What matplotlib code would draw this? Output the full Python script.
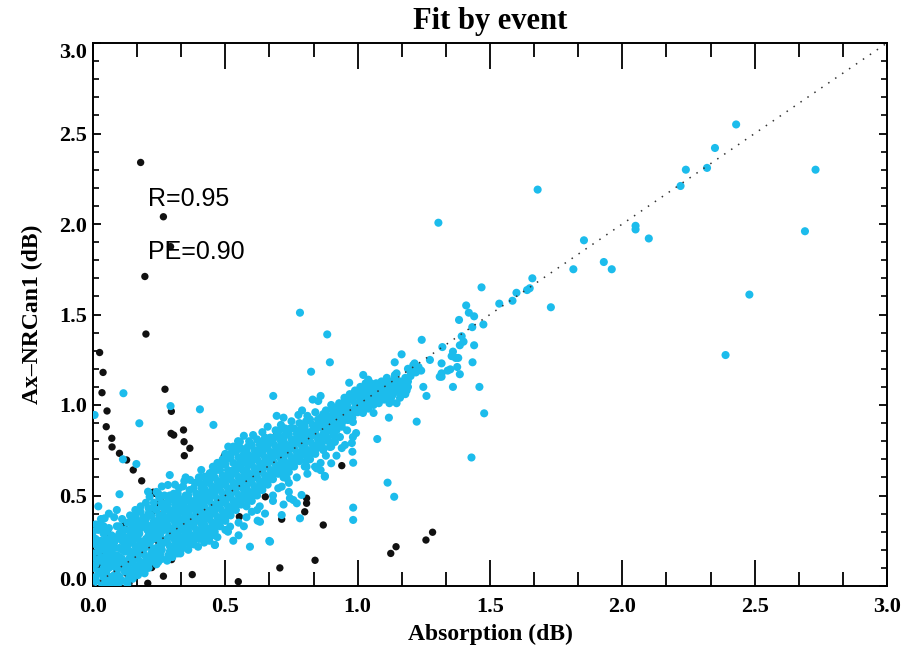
import matplotlib
matplotlib.use("Agg")
import matplotlib.pyplot as plt
from matplotlib.ticker import FixedLocator

# ---------------- data ----------------
title = "Fit by event"
x_label = "Absorption (dB)"
y_label = "Ax\u2013NRCan1 (dB)"
stat_r = "R=0.95"
stat_pe = "PE=0.90"
x_ticks = [0.0, 0.5, 1.0, 1.5, 2.0, 2.5, 3.0]
y_ticks = [0.0, 0.5, 1.0, 1.5, 2.0, 2.5, 3.0]
tick_labels = ["0.0", "0.5", "1.0", "1.5", "2.0", "2.5", "3.0"]

# black (rejected) events
black_pts = [
    (0.18, 2.34), (0.266, 2.04), (0.196, 1.71), (0.293, 1.875), (0.20, 1.392),
    (0.025, 1.29), (0.038, 1.18), (0.034, 1.068), (0.053, 0.967), (0.05, 0.88),
    (0.071, 0.816), (0.072, 0.768), (0.10, 0.733), (0.127, 0.696), (0.152, 0.641), (0.184, 0.581),
    (0.227, 0.518), (0.233, 0.512), (0.258, 0.466), (0.248, 0.452), (0.252, 0.392), (0.222, 0.405),
    (0.272, 1.087), (0.296, 0.965), (0.295, 0.843), (0.305, 0.834), (0.342, 0.862), (0.344, 0.797),
    (0.366, 0.761), (0.345, 0.72),
    (0.691, 0.829), (0.496, 0.718), (0.94, 0.665), (0.651, 0.493), (0.553, 0.383), (0.713, 0.369),
    (0.807, 0.485), (0.807, 0.457), (0.80, 0.41), (0.87, 0.337),
    (1.283, 0.297), (1.258, 0.254), (1.145, 0.217), (1.125, 0.18),
    (0.839, 0.142), (0.706, 0.10), (0.549, 0.024), (0.375, 0.063), (0.266, 0.054), (0.297, 0.146),
    (0.222, 0.102), (0.214, 0.144), (0.207, 0.015), (0.136, 0.015), (0.121, 0.343), (0.054, 0.296),
    (0.208, 0.309), (0.026, 0.19), (0.014, 0.162), (0.064, 0.208), (0.033, 0.125), (0.058, 0.282),
    (0.045, 0.217), (0.07, 0.18), (0.121, 0.116), (0.127, 0.07), (0.014, 0.107),
    (0.40, 0.36), (0.637, 0.65),
]

# cyan (accepted) events, split by absorption range
cyan_a = [
    (0.00, 0.01), (0.01, 0.05), (0.00, 0.10), (0.02, 0.14), (0.00, 0.18), (0.01, 0.23), (0.00, 0.27), (0.02, 0.31),
    (0.03, 0.02), (0.03, 0.07), (0.04, 0.10), (0.03, 0.16), (0.04, 0.20), (0.03, 0.25), (0.04, 0.29), (0.03, 0.37),
    (0.05, 0.00), (0.06, 0.04), (0.05, 0.08), (0.06, 0.13), (0.05, 0.17), (0.06, 0.22), (0.05, 0.26), (0.06, 0.32),
    (0.07, 0.02), (0.08, 0.06), (0.07, 0.11), (0.08, 0.15), (0.07, 0.19), (0.08, 0.24), (0.07, 0.28), (0.09, 0.33),
    (0.09, 0.01), (0.10, 0.05), (0.09, 0.09), (0.10, 0.12), (0.09, 0.17), (0.10, 0.21), (0.11, 0.25), (0.10, 0.29),
    (0.11, 0.03), (0.12, 0.08), (0.11, 0.15), (0.12, 0.19), (0.12, 0.27), (0.13, 0.35), (0.08, 0.38), (0.02, 0.21),
    (0.01, 0.34), (0.04, 0.33), (0.06, 0.40), (0.09, 0.42), (0.11, 0.37), (0.02, 0.44), (0.04, 0.05), (0.06, 0.18),
    (0.038, 0.328), (0.044, 0.374), (0.10, 0.507), (0.113, 0.70), (0.164, 0.674), (0.006, 0.945),
    (0.115, 1.065), (0.175, 0.899), (0.293, 0.994), (0.404, 0.976), (0.455, 0.89),
]
cyan_a2 = [
    (0.01, 0.03), (0.02, 0.08), (0.01, 0.12), (0.00, 0.16), (0.02, 0.19), (0.01, 0.26), (0.00, 0.30), (0.03, 0.34),
    (0.04, 0.03), (0.05, 0.06), (0.04, 0.13), (0.05, 0.15), (0.04, 0.23), (0.05, 0.24), (0.05, 0.30),
    (0.06, 0.01), (0.07, 0.05), (0.06, 0.10), (0.07, 0.16), (0.06, 0.20), (0.07, 0.25), (0.08, 0.27),
    (0.08, 0.03), (0.09, 0.07), (0.08, 0.12), (0.09, 0.14), (0.08, 0.21), (0.09, 0.26), (0.10, 0.33),
    (0.10, 0.02), (0.11, 0.10), (0.10, 0.16), (0.11, 0.20), (0.11, 0.28), (0.12, 0.31), (0.12, 0.13), (0.12, 0.23),
]
cyan_b = [
    (0.13, 0.01), (0.14, 0.06), (0.13, 0.11), (0.14, 0.16), (0.13, 0.22), (0.14, 0.28), (0.15, 0.33), (0.14, 0.39),
    (0.15, 0.04), (0.16, 0.09), (0.15, 0.13), (0.16, 0.19), (0.15, 0.24), (0.16, 0.30), (0.17, 0.36), (0.16, 0.42),
    (0.17, 0.06), (0.18, 0.11), (0.17, 0.15), (0.18, 0.21), (0.17, 0.26), (0.18, 0.32), (0.19, 0.38), (0.18, 0.44),
    (0.19, 0.08), (0.20, 0.13), (0.19, 0.18), (0.20, 0.23), (0.21, 0.28), (0.20, 0.34), (0.21, 0.40), (0.20, 0.46),
    (0.21, 0.10), (0.22, 0.16), (0.22, 0.21), (0.23, 0.26), (0.22, 0.31), (0.23, 0.36), (0.23, 0.43),
    (0.24, 0.12), (0.24, 0.18), (0.25, 0.23), (0.24, 0.28), (0.25, 0.33), (0.25, 0.39), (0.26, 0.46), (0.24, 0.52),
    (0.26, 0.15), (0.26, 0.20), (0.26, 0.26), (0.27, 0.31), (0.26, 0.36), (0.27, 0.42),
    (0.195, 0.07), (0.208, 0.521), (0.214, 0.493), (0.246, 0.512),
]
cyan_b2 = [
    (0.135, 0.04), (0.14, 0.09), (0.135, 0.14), (0.14, 0.19), (0.135, 0.25), (0.14, 0.31), (0.145, 0.36),
    (0.155, 0.07), (0.16, 0.11), (0.155, 0.17), (0.16, 0.22), (0.155, 0.27), (0.165, 0.33), (0.16, 0.39),
    (0.175, 0.09), (0.18, 0.13), (0.175, 0.18), (0.18, 0.24), (0.175, 0.29), (0.185, 0.35), (0.18, 0.41),
    (0.195, 0.11), (0.20, 0.16), (0.195, 0.21), (0.20, 0.26), (0.205, 0.31), (0.20, 0.37), (0.21, 0.43),
    (0.215, 0.13), (0.22, 0.18), (0.215, 0.24), (0.22, 0.29), (0.225, 0.34), (0.22, 0.39), (0.23, 0.46),
    (0.235, 0.15), (0.24, 0.21), (0.235, 0.26), (0.24, 0.31), (0.245, 0.36), (0.24, 0.42), (0.25, 0.49),
    (0.255, 0.18), (0.26, 0.23), (0.255, 0.29), (0.26, 0.33), (0.265, 0.39), (0.26, 0.44), (0.27, 0.50),
]
cyan_c = [
    (0.28, 0.14), (0.29, 0.19), (0.28, 0.24), (0.29, 0.29), (0.28, 0.34), (0.29, 0.39), (0.28, 0.45), (0.29, 0.50),
    (0.30, 0.16), (0.31, 0.22), (0.30, 0.27), (0.31, 0.32), (0.30, 0.37), (0.31, 0.42), (0.30, 0.48),
    (0.32, 0.18), (0.33, 0.24), (0.32, 0.29), (0.33, 0.34), (0.32, 0.39), (0.33, 0.45), (0.32, 0.51),
    (0.34, 0.21), (0.35, 0.26), (0.34, 0.31), (0.35, 0.36), (0.34, 0.41), (0.35, 0.47), (0.34, 0.55),
    (0.36, 0.20), (0.37, 0.25), (0.36, 0.30), (0.37, 0.35), (0.36, 0.40), (0.37, 0.44), (0.36, 0.50),
    (0.38, 0.23), (0.39, 0.28), (0.38, 0.33), (0.39, 0.38), (0.38, 0.43), (0.39, 0.48), (0.38, 0.54),
    (0.40, 0.26), (0.41, 0.31), (0.40, 0.36), (0.41, 0.41), (0.40, 0.46), (0.41, 0.51), (0.40, 0.57),
    (0.42, 0.24), (0.43, 0.29), (0.42, 0.34), (0.43, 0.39), (0.42, 0.44), (0.43, 0.49), (0.42, 0.54), (0.43, 0.60),
    (0.44, 0.27), (0.45, 0.32), (0.44, 0.37), (0.45, 0.42), (0.44, 0.47), (0.45, 0.52), (0.44, 0.57), (0.45, 0.63),
    (0.46, 0.30), (0.47, 0.35), (0.46, 0.40), (0.47, 0.45), (0.46, 0.50), (0.47, 0.55), (0.46, 0.60),
    (0.283, 0.328), (0.315, 0.475), (0.359, 0.485), (0.346, 0.42), (0.397, 0.438), (0.384, 0.383),
    (0.371, 0.365), (0.409, 0.641), (0.422, 0.604), (0.428, 0.576), (0.441, 0.623), (0.453, 0.659),
    (0.46, 0.227), (0.397, 0.217), (0.29, 0.613), (0.283, 0.558),
]
cyan_c2 = [
    (0.285, 0.17), (0.29, 0.22), (0.285, 0.27), (0.29, 0.32), (0.285, 0.37), (0.29, 0.42), (0.285, 0.47),
    (0.305, 0.19), (0.31, 0.25), (0.305, 0.30), (0.31, 0.35), (0.305, 0.40), (0.31, 0.45), (0.305, 0.51),
    (0.325, 0.21), (0.33, 0.27), (0.325, 0.32), (0.33, 0.37), (0.325, 0.42), (0.33, 0.48), (0.325, 0.54),
    (0.345, 0.24), (0.35, 0.29), (0.345, 0.34), (0.35, 0.39), (0.345, 0.44), (0.35, 0.50), (0.345, 0.58),
    (0.365, 0.23), (0.37, 0.28), (0.365, 0.33), (0.37, 0.38), (0.365, 0.42), (0.37, 0.47), (0.365, 0.53),
    (0.385, 0.26), (0.39, 0.31), (0.385, 0.36), (0.39, 0.41), (0.385, 0.46), (0.39, 0.51), (0.385, 0.57),
    (0.405, 0.29), (0.41, 0.34), (0.405, 0.39), (0.41, 0.44), (0.405, 0.49), (0.41, 0.54), (0.405, 0.60),
    (0.425, 0.27), (0.43, 0.32), (0.425, 0.37), (0.43, 0.42), (0.425, 0.47), (0.43, 0.52), (0.425, 0.57),
    (0.445, 0.30), (0.45, 0.35), (0.445, 0.40), (0.45, 0.45), (0.445, 0.50), (0.45, 0.55), (0.445, 0.60),
    (0.465, 0.33), (0.47, 0.38), (0.465, 0.43), (0.47, 0.48), (0.465, 0.53), (0.47, 0.58), (0.465, 0.64),
]
cyan_d = [
    (0.48, 0.33), (0.49, 0.38), (0.48, 0.43), (0.49, 0.48), (0.48, 0.53), (0.49, 0.58), (0.48, 0.64), (0.49, 0.70),
    (0.50, 0.36), (0.51, 0.41), (0.50, 0.46), (0.51, 0.51), (0.50, 0.56), (0.51, 0.61), (0.50, 0.67),
    (0.52, 0.39), (0.53, 0.44), (0.52, 0.49), (0.53, 0.54), (0.52, 0.59), (0.53, 0.64), (0.52, 0.71), (0.53, 0.77),
    (0.54, 0.42), (0.55, 0.47), (0.54, 0.52), (0.55, 0.57), (0.54, 0.62), (0.55, 0.67), (0.54, 0.74),
    (0.56, 0.45), (0.57, 0.50), (0.56, 0.55), (0.57, 0.60), (0.56, 0.65), (0.57, 0.70), (0.56, 0.76),
    (0.58, 0.44), (0.59, 0.49), (0.58, 0.54), (0.59, 0.59), (0.58, 0.64), (0.59, 0.69), (0.58, 0.74), (0.59, 0.80),
    (0.60, 0.47), (0.61, 0.52), (0.60, 0.57), (0.61, 0.62), (0.60, 0.67), (0.61, 0.72), (0.60, 0.78),
    (0.62, 0.50), (0.63, 0.55), (0.62, 0.60), (0.63, 0.65), (0.62, 0.70), (0.63, 0.75), (0.62, 0.81),
    (0.64, 0.53), (0.65, 0.58), (0.64, 0.63), (0.65, 0.68), (0.64, 0.73), (0.65, 0.79), (0.64, 0.85),
    (0.51, 0.30), (0.55, 0.35), (0.58, 0.38), (0.47, 0.27), (0.53, 0.25), (0.60, 0.41), (0.63, 0.44),
    (0.511, 0.77), (0.555, 0.797), (0.593, 0.779), (0.637, 0.797), (0.631, 0.355), (0.593, 0.217),
    (0.461, 0.227), (0.622, 0.361),
]
cyan_d2 = [
    (0.485, 0.36), (0.49, 0.41), (0.485, 0.46), (0.49, 0.51), (0.485, 0.56), (0.49, 0.61), (0.485, 0.67),
    (0.505, 0.39), (0.51, 0.44), (0.505, 0.49), (0.51, 0.54), (0.505, 0.59), (0.51, 0.64), (0.505, 0.70),
    (0.525, 0.42), (0.53, 0.47), (0.525, 0.52), (0.53, 0.57), (0.525, 0.62), (0.53, 0.68), (0.525, 0.74),
    (0.545, 0.45), (0.55, 0.50), (0.545, 0.55), (0.55, 0.60), (0.545, 0.65), (0.55, 0.71), (0.545, 0.77),
    (0.565, 0.48), (0.57, 0.53), (0.565, 0.58), (0.57, 0.63), (0.565, 0.68), (0.57, 0.73),
    (0.585, 0.47), (0.59, 0.52), (0.585, 0.57), (0.59, 0.62), (0.585, 0.67), (0.59, 0.72), (0.585, 0.77),
    (0.605, 0.50), (0.61, 0.55), (0.605, 0.60), (0.61, 0.65), (0.605, 0.70), (0.61, 0.75),
    (0.625, 0.53), (0.63, 0.58), (0.625, 0.63), (0.63, 0.68), (0.625, 0.73), (0.63, 0.78),
    (0.645, 0.56), (0.65, 0.61), (0.645, 0.66), (0.65, 0.71), (0.645, 0.76), (0.65, 0.82),
]
cyan_e = [
    (0.66, 0.56), (0.67, 0.61), (0.66, 0.66), (0.67, 0.71), (0.66, 0.76), (0.67, 0.82),
    (0.68, 0.59), (0.69, 0.64), (0.68, 0.69), (0.69, 0.74), (0.68, 0.79), (0.69, 0.86),
    (0.70, 0.62), (0.71, 0.67), (0.70, 0.72), (0.71, 0.77), (0.70, 0.83), (0.71, 0.89),
    (0.72, 0.60), (0.73, 0.65), (0.72, 0.70), (0.73, 0.75), (0.72, 0.80), (0.73, 0.86),
    (0.74, 0.63), (0.75, 0.68), (0.74, 0.73), (0.75, 0.78), (0.74, 0.84), (0.75, 0.91),
    (0.76, 0.66), (0.77, 0.71), (0.76, 0.76), (0.77, 0.81), (0.76, 0.87),
    (0.78, 0.69), (0.79, 0.74), (0.78, 0.79), (0.79, 0.84), (0.78, 0.90),
    (0.80, 0.66), (0.81, 0.72), (0.80, 0.77), (0.81, 0.82), (0.80, 0.88), (0.81, 0.94),
    (0.82, 0.70), (0.83, 0.75), (0.82, 0.80), (0.83, 0.86), (0.82, 0.92),
    (0.84, 0.73), (0.85, 0.78), (0.84, 0.84), (0.85, 0.89), (0.84, 0.96),
    (0.86, 0.68), (0.87, 0.76), (0.86, 0.82), (0.87, 0.87), (0.86, 0.93),
    (0.88, 0.72), (0.89, 0.80), (0.88, 0.85), (0.89, 0.91), (0.88, 0.97),
    (0.90, 0.77), (0.91, 0.83), (0.90, 0.88), (0.91, 0.94), (0.90, 1.00),
    (0.70, 0.54), (0.74, 0.57), (0.77, 0.60), (0.68, 0.50),
    (0.725, 0.871), (0.669, 0.816), (0.681, 1.05), (0.694, 0.94), (0.851, 1.022), (0.776, 0.945),
    (0.807, 0.659), (0.839, 0.659), (0.876, 0.604), (0.845, 0.65), (0.732, 0.595), (0.713, 0.549),
    (0.744, 0.485), (0.788, 0.503), (0.77, 0.457), (0.782, 0.374), (0.713, 0.392), (0.666, 0.249),
    (0.669, 0.245), (0.824, 1.184), (0.782, 1.51), (0.865, 0.89), (0.876, 0.608), (0.90, 0.678),
    (0.87, 0.751), (0.895, 0.768),
]
cyan_e2 = [
    (0.665, 0.59), (0.67, 0.64), (0.665, 0.69), (0.67, 0.74), (0.665, 0.79),
    (0.685, 0.62), (0.69, 0.67), (0.685, 0.72), (0.69, 0.77), (0.685, 0.82),
    (0.705, 0.65), (0.71, 0.70), (0.705, 0.75), (0.71, 0.80), (0.705, 0.86),
    (0.725, 0.63), (0.73, 0.68), (0.725, 0.73), (0.73, 0.78), (0.725, 0.83),
    (0.745, 0.66), (0.75, 0.71), (0.745, 0.76), (0.75, 0.81), (0.745, 0.87),
    (0.765, 0.69), (0.77, 0.74), (0.765, 0.79), (0.77, 0.84),
    (0.785, 0.72), (0.79, 0.77), (0.785, 0.82), (0.79, 0.87),
    (0.805, 0.69), (0.81, 0.75), (0.805, 0.80), (0.81, 0.85), (0.805, 0.91),
    (0.825, 0.73), (0.83, 0.78), (0.825, 0.83), (0.83, 0.89),
    (0.845, 0.76), (0.85, 0.81), (0.845, 0.87), (0.85, 0.92),
    (0.865, 0.79), (0.87, 0.84), (0.865, 0.90), (0.87, 0.95),
    (0.885, 0.82), (0.89, 0.88), (0.885, 0.94),
    (0.905, 0.85), (0.91, 0.91), (0.905, 0.97),
]
cyan_f = [
    (0.92, 0.86), (0.93, 0.91), (0.92, 0.96), (0.93, 1.01),
    (0.94, 0.88), (0.95, 0.93), (0.94, 0.98), (0.95, 1.04),
    (0.96, 0.86), (0.97, 0.95), (0.96, 1.00), (0.97, 1.06),
    (0.98, 0.93), (0.99, 0.98), (0.98, 1.03), (0.99, 1.08),
    (1.00, 0.96), (1.01, 1.00), (1.00, 1.05), (1.01, 1.10),
    (1.02, 0.99), (1.03, 1.03), (1.02, 1.07), (1.03, 1.12),
    (1.04, 0.98), (1.05, 1.02), (1.04, 1.06), (1.05, 1.10), (1.04, 1.14),
    (1.06, 1.00), (1.07, 1.04), (1.06, 1.08), (1.07, 1.12),
    (1.08, 1.01), (1.09, 1.05), (1.08, 1.09), (1.09, 1.13),
    (1.10, 1.03), (1.11, 1.07), (1.10, 1.11), (1.11, 1.15),
    (1.12, 1.01), (1.13, 1.05), (1.12, 1.09), (1.13, 1.13),
    (1.14, 1.07), (1.15, 1.11), (1.14, 1.16), (1.16, 1.04), (1.17, 1.09), (1.16, 1.13),
    (1.18, 1.15), (1.19, 1.10), (1.18, 1.06),
    (0.94, 0.762), (0.914, 0.796), (0.933, 0.823), (0.952, 0.779), (0.98, 0.742), (0.983, 0.681),
    (0.994, 0.845), (0.982, 0.823), (0.978, 0.79), (1.074, 0.812), (1.113, 0.571), (1.138, 0.493),
    (0.983, 0.433), (0.983, 0.365), (0.926, 0.983), (0.907, 0.945), (0.884, 0.917), (0.944, 0.934),
    (0.963, 0.917), (0.982, 0.906), (0.965, 1.03), (1.02, 0.956), (1.06, 0.956), (1.118, 0.93),
    (1.223, 0.908), (1.147, 1.01), (0.885, 1.39), (0.895, 1.236), (0.968, 1.123), (1.021, 1.166),
    (1.141, 1.166), (1.219, 1.188),
]
cyan_f2 = [
    (0.925, 0.89), (0.93, 0.94), (0.925, 0.99), (0.945, 0.91), (0.95, 0.96), (0.945, 1.01),
    (0.965, 0.98), (0.97, 1.03), (0.985, 0.96), (0.99, 1.01), (0.985, 1.06), (1.005, 0.98),
    (1.01, 1.03), (1.005, 1.08), (1.025, 1.01), (1.03, 1.05), (1.025, 1.10), (1.045, 1.00),
    (1.05, 1.04), (1.045, 1.08), (1.05, 1.12), (1.065, 1.02), (1.07, 1.06), (1.065, 1.10),
    (1.085, 1.03), (1.09, 1.07), (1.085, 1.11), (1.105, 1.05), (1.11, 1.09), (1.105, 1.13),
    (1.125, 1.03), (1.13, 1.07), (1.125, 1.11), (1.145, 1.09), (1.15, 1.13), (1.165, 1.07),
    (1.17, 1.12), (1.185, 1.08), (1.19, 1.13), (1.20, 1.16),
]
cyan_g = [
    (1.166, 1.28), (1.14, 1.236), (1.19, 1.20), (1.21, 1.22), (1.22, 1.18), (1.20, 1.18), (1.23, 1.21),
    (1.24, 1.19), (1.215, 1.23), (1.273, 1.249), (1.31, 1.156), (1.317, 1.175), (1.34, 1.19),
    (1.248, 1.10), (1.26, 1.05), (1.18, 1.11), (1.147, 1.175), (1.242, 1.36),
    (1.468, 1.65), (1.65, 1.645), (1.64, 1.635), (1.60, 1.62), (1.585, 1.576), (1.535, 1.56),
    (1.41, 1.55), (1.42, 1.51), (1.44, 1.49), (1.383, 1.47), (1.475, 1.445), (1.433, 1.43),
    (1.393, 1.38), (1.40, 1.35), (1.386, 1.33), (1.44, 1.33), (1.32, 1.32), (1.36, 1.295),
    (1.355, 1.27), (1.37, 1.26), (1.38, 1.26), (1.434, 1.236), (1.317, 1.23), (1.35, 1.197),
    (1.376, 1.21), (1.386, 1.17), (1.317, 1.156), (1.36, 1.10), (1.46, 1.10), (1.478, 0.954),
    (1.43, 0.71),
]
cyan_edges = [
    (0.367, 0.586), (0.40, 0.60), (0.505, 0.72), (0.548, 0.80), (0.605, 0.834), (0.718, 0.77),
    (0.782, 0.862), (0.83, 1.03), (0.757, 0.475), (0.518, 0.328), (0.455, 0.282), (0.39, 0.272),
    (0.33, 0.18), (0.247, 0.134), (0.47, 0.68), (0.50, 0.73), (0.57, 0.83), (0.66, 0.88),
    (0.72, 0.93), (0.79, 0.97), (0.86, 1.05), (0.35, 0.60), (0.31, 0.56), (0.26, 0.55),
    (0.44, 0.25), (0.50, 0.31), (0.57, 0.33), (0.62, 0.42), (0.68, 0.47), (0.74, 0.52),
    (0.81, 0.62), (0.86, 0.64), (0.92, 0.72), (0.55, 0.28), (0.65, 0.40), (0.72, 0.45),
]
cyan_out = [
    (2.43, 2.55), (2.35, 2.42), (2.32, 2.31), (2.24, 2.30), (2.22, 2.21), (2.73, 2.30), (1.68, 2.19),
    (2.05, 1.99), (2.05, 1.97), (2.10, 1.92), (2.69, 1.96), (1.855, 1.91), (1.815, 1.75),
    (1.93, 1.79), (1.96, 1.75), (2.48, 1.61), (1.73, 1.54), (2.39, 1.276), (1.305, 2.007),
    (1.66, 1.70),
]

# ---------------- plotting ----------------
serif = ["Liberation Serif", "DejaVu Serif"]
sans = ["Liberation Sans", "DejaVu Sans"]

fig = plt.figure(figsize=(9.2, 6.49), dpi=100)
ax = fig.add_axes([93 / 920, 1 - 586 / 649, (887 - 93) / 920, (586 - 43) / 649])

bx = [p[0] for p in black_pts]
by = [p[1] for p in black_pts]
ax.scatter(bx, by, s=28, c="#111111", edgecolors="none", zorder=2)

cyan_all = (cyan_a + cyan_a2 + cyan_b + cyan_b2 + cyan_c + cyan_c2 + cyan_d + cyan_d2
            + cyan_e + cyan_e2 + cyan_f + cyan_f2 + cyan_g + cyan_edges + cyan_out)
cx = [p[0] for p in cyan_all]
cy = [p[1] for p in cyan_all]
ax.scatter(cx, cy, s=34, c="#1cbcec", edgecolors="none", zorder=3)

ax.plot([0, 3], [0, 3], color="#333333", lw=1.1, linestyle=(0, (1, 4.5)), zorder=4)

ax.set_xlim(0, 3)
ax.set_ylim(0, 3)

ax.xaxis.set_major_locator(FixedLocator(x_ticks))
ax.yaxis.set_major_locator(FixedLocator(y_ticks))
ax.xaxis.set_minor_locator(FixedLocator([k / 6 for k in range(19) if k % 3 != 0]))
ax.yaxis.set_minor_locator(FixedLocator([k / 10 for k in range(31) if k % 5 != 0]))
ax.set_xticklabels(tick_labels)
ax.set_yticklabels(tick_labels)

ax.tick_params(axis="x", which="major", direction="in", length=19, width=1.3, top=True, pad=8)
ax.tick_params(axis="x", which="minor", direction="in", length=10, width=1.3, top=True)
ax.tick_params(axis="y", which="major", direction="in", length=6, width=1.3, right=True, pad=4)
ax.tick_params(axis="y", which="minor", direction="in", length=4, width=1.2, right=True)

for lab in ax.get_xticklabels() + ax.get_yticklabels():
    lab.set_fontfamily(serif)
    lab.set_fontweight("bold")
    lab.set_fontsize(16)
ylabs = ax.get_yticklabels()
ylabs[0].set_va("baseline")
ylabs[-1].set_va("top")

for sp in ax.spines.values():
    sp.set_linewidth(1.4)

fig.text(490 / 920, 1 - 21 / 649, title, ha="center", va="center",
         fontfamily=serif, fontweight="bold", fontsize=22)
fig.text(490 / 920, 1 - 634 / 649, x_label, ha="center", va="center",
         fontfamily=serif, fontweight="bold", fontsize=17)
fig.text(32 / 920, 1 - 314 / 649, y_label, ha="center", va="center", rotation=90,
         fontfamily=serif, fontweight="bold", fontsize=17)

ax.text(0.208, 2.14, stat_r, ha="left", va="center", fontfamily=sans, fontsize=18, zorder=5)
ax.text(0.208, 1.845, stat_pe, ha="left", va="center", fontfamily=sans, fontsize=18, zorder=5)

fig.savefig("out.png", dpi=100)
